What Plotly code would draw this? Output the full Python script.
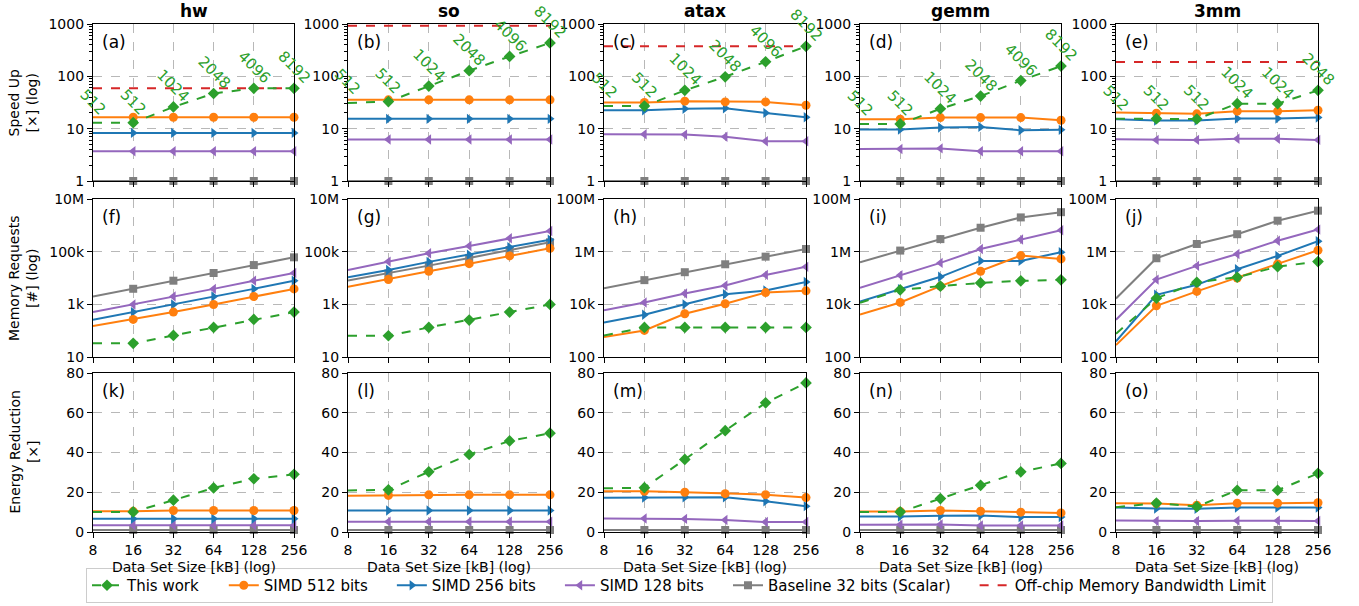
import numpy as np
import plotly.graph_objects as go

# ---------------- data ----------------
sizes = [8, 16, 32, 64, 128, 256]
size_labels = ["8", "16", "32", "64", "128", "256"]
benchmarks = ["hw", "so", "atax", "gemm", "3mm"]
panel_letters = ["a", "b", "c", "d", "e", "f", "g", "h", "i", "j", "k", "l", "m", "n", "o"]

# Speed up [x]
speedup_this_work = {
    "hw": [13, 13, 26, 47, 59, 59],
    "so": [31, 33, 65, 128, 240, 435],
    "atax": [27, 27, 54, 98, 190, 375],
    "gemm": [12.3, 12.3, 24, 42, 83, 157],
    "3mm": [15.5, 15.5, 15.3, 30, 30, 54],
}
speedup_simd512 = {
    "hw": [16.5, 16.5, 16.5, 16.5, 16.5, 16.5],
    "so": [35.5, 35.5, 35.5, 35.5, 35.5, 35.5],
    "atax": [31.6, 31.6, 33.5, 32.5, 32.5, 28],
    "gemm": [15.2, 15.2, 16.3, 16.3, 16.3, 14.5],
    "3mm": [20.3, 19.8, 19.2, 21.6, 21.6, 22.5],
}
speedup_simd256 = {
    "hw": [8.3, 8.3, 8.3, 8.3, 8.3, 8.3],
    "so": [15.4, 15.4, 15.4, 15.4, 15.4, 15.4],
    "atax": [22.5, 22.5, 23.9, 24.6, 20, 16.5],
    "gemm": [9.6, 9.6, 10.5, 10.8, 9.3, 9.5],
    "3mm": [15.2, 14.3, 14.3, 15.6, 15.6, 16.3],
}
speedup_simd128 = {
    "hw": [3.7, 3.7, 3.7, 3.7, 3.7, 3.7],
    "so": [6.2, 6.2, 6.2, 6.2, 6.2, 6.2],
    "atax": [7.8, 7.8, 7.7, 7.0, 5.75, 5.75],
    "gemm": [4.1, 4.1, 4.2, 3.7, 3.7, 3.7],
    "3mm": [6.3, 6.1, 6.1, 6.4, 6.4, 6.1],
}
speedup_baseline = {b: [1, 1, 1, 1, 1, 1] for b in benchmarks}
bandwidth_limit = {"hw": 59, "so": 930, "atax": 375, "gemm": None, "3mm": 187}
speedup_point_labels = {
    "hw": ["512", "512", "1024", "2048", "4096", "8192"],
    "so": ["512", "512", "1024", "2048", "4096", "8192"],
    "atax": ["512", "512", "1024", "2048", "4096", "8192"],
    "gemm": ["512", "512", "1024", "2048", "4096", "8192"],
    "3mm": ["512", "512", "512", "1024", "1024", "2048"],
}

# Memory requests [#]
mem_this_work = {
    "hw": [33, 33, 66, 133, 267, 507],
    "so": [64, 64, 133, 252, 507, 990],
    "atax": [660, 1330, 1330, 1330, 1330, 1330],
    "gemm": [11400, 35500, 49000, 65000, 78000, 85000],
    "3mm": [765, 17000, 69000, 107000, 270000, 420000],
}
mem_simd512 = {
    "hw": [149, 267, 507, 990, 1990, 3860],
    "so": [4600, 8800, 18000, 35000, 69000, 134000],
    "atax": [573, 1020, 4400, 10500, 28000, 32600],
    "gemm": [4100, 11800, 49000, 181000, 710000, 530000],
    "3mm": [285, 8800, 31000, 100000, 343000, 1130000],
}
mem_simd256 = {
    "hw": [260, 507, 990, 1990, 3860, 7900],
    "so": [10700, 20000, 41000, 77000, 147000, 286000],
    "atax": [2060, 4000, 10000, 24000, 33500, 71000],
    "gemm": [12800, 37700, 111000, 447000, 447000, 955000],
    "3mm": [392, 23000, 55000, 215000, 690000, 2500000],
}
mem_simd128 = {
    "hw": [507, 990, 1990, 3860, 7900, 15500],
    "so": [20300, 42000, 87000, 165000, 322000, 610000],
    "atax": [5900, 11700, 25700, 52000, 131000, 265000],
    "gemm": [42000, 128000, 374000, 1260000, 2900000, 6500000],
    "3mm": [2600, 87000, 289000, 820000, 2600000, 6900000],
}
mem_baseline = {
    "hw": [1990, 3900, 7900, 15500, 31000, 61000],
    "so": [8000, 15000, 29500, 58000, 116000, 227000],
    "atax": [41000, 83000, 166000, 332000, 647000, 1260000],
    "gemm": [398000, 1100000, 3000000, 8100000, 20000000, 31600000],
    "3mm": [16700, 563000, 1960000, 4600000, 15000000, 36000000],
}

# Energy reduction [x]
energy_this_work = {
    "hw": [10.1, 10.1, 16, 22.2, 26.8, 29],
    "so": [20.9, 21.2, 30.3, 39, 45.8, 49.7],
    "atax": [22, 22.3, 36.5, 51, 65, 75],
    "gemm": [10.1, 10.1, 16.8, 23.5, 30.3, 34.5],
    "3mm": [12.5, 14.5, 12.8, 21, 21, 29.5],
}
energy_simd512 = {
    "hw": [10.4, 10.4, 10.8, 10.8, 10.8, 10.8],
    "so": [18.2, 18.4, 18.7, 18.7, 18.7, 18.7],
    "atax": [20.5, 20.5, 20, 19.3, 18.8, 17.3],
    "gemm": [10.3, 10.3, 10.8, 10.5, 10, 9.6],
    "3mm": [14.5, 14.3, 13.5, 14.5, 14.5, 14.7],
}
energy_simd256 = {
    "hw": [6.7, 6.7, 6.7, 6.7, 6.7, 6.7],
    "so": [10.8, 10.8, 10.8, 10.8, 10.8, 10.8],
    "atax": [17.2, 17.3, 17.5, 17.5, 15.5, 13],
    "gemm": [7.8, 7.8, 8.2, 8.3, 7.5, 7.5],
    "3mm": [12.3, 11.8, 11.7, 12.3, 12.3, 12.3],
}
energy_simd128 = {
    "hw": [3.4, 3.4, 3.4, 3.4, 3.4, 3.4],
    "so": [5.2, 5.2, 5.2, 5.2, 5.2, 5.2],
    "atax": [6.8, 6.8, 6.6, 6.0, 5.0, 5.0],
    "gemm": [3.7, 3.7, 3.8, 3.3, 3.3, 3.3],
    "3mm": [5.8, 5.5, 5.5, 5.7, 5.7, 5.5],
}
energy_baseline = {b: [1, 1, 1, 1, 1, 1] for b in benchmarks}

row_titles = ["Speed Up<br>[×] (log)", "Memory Requests<br>[#] (log)", "Energy Reduction<br>[×]"]
x_title = "Data Set Size [kB] (log)"

# ---------------- styling ----------------
W, H = 1359, 606
FONT = "DejaVu Sans"
col_px = [(93, 294), (348, 550), (604, 806), (860, 1061), (1116, 1318)]
row_px = [(24, 181), (199, 357), (373, 532)]

C_GREEN = "#2ca02c"
C_ORANGE = "#ff7f0e"
C_BLUE = "#1f77b4"
C_PURPLE = "#9467bd"
C_GRAY = "#7f7f7f"
C_RED = "#d62728"

NB = "\u00a0" * 4
series_style = [
    # (name, key, color, symbol, size, dash, legendrank)
    ("Baseline 32 bits (Scalar)", "base", C_GRAY, "square", 8, "solid", 5),
    ("SIMD 128 bits", "s128", C_PURPLE, "triangle-left", 9, "solid", 4),
    ("SIMD 256 bits", "s256", C_BLUE, "triangle-right", 9, "solid", 3),
    ("SIMD 512 bits", "s512", C_ORANGE, "circle", 9, "solid", 2),
    ("This work", "this", C_GREEN, "diamond", 9, "dash", 1),
]
metric_data = [
    {"this": speedup_this_work, "s512": speedup_simd512, "s256": speedup_simd256,
     "s128": speedup_simd128, "base": speedup_baseline},
    {"this": mem_this_work, "s512": mem_simd512, "s256": mem_simd256,
     "s128": mem_simd128, "base": mem_baseline},
    {"this": energy_this_work, "s512": energy_simd512, "s256": energy_simd256,
     "s128": energy_simd128, "base": energy_baseline},
]

fig = go.Figure()
layout = dict(
    width=W, height=H,
    margin=dict(l=0, r=0, t=0, b=0, pad=0, autoexpand=False),
    plot_bgcolor="white", paper_bgcolor="white",
    font=dict(family=FONT, size=14, color="black"),
    showlegend=True,
    legend=dict(orientation="h", x=0.5, xanchor="center", y=(H - 603) / H, yanchor="bottom",
                bordercolor="#cccccc", borderwidth=1, font=dict(family=FONT, size=15),
                itemwidth=30, tracegroupgap=0, bgcolor="white"),
)
annotations = []

minor_log = [m * 10 ** d for d in range(0, 3) for m in range(2, 10)]

for r in range(3):
    for c in range(5):
        idx = r * 5 + c + 1
        sfx = "" if idx == 1 else str(idx)
        xref, yref = "x" + sfx, "y" + sfx
        b = benchmarks[c]
        axis_common = dict(showline=True, linecolor="black", linewidth=1.2, mirror=True,
                           ticks="outside", ticklen=5, tickwidth=1.2, tickcolor="black",
                           showgrid=True, gridcolor="#b8b8b8", griddash="dash", gridwidth=1,
                           zeroline=False, automargin=False,
                           tickfont=dict(family=FONT, size=14))
        layout["xaxis" + sfx] = dict(
            domain=[col_px[c][0] / W, col_px[c][1] / W], anchor=yref,
            type="log", range=[np.log10(8), np.log10(256)],
            tickmode="array", tickvals=sizes, ticktext=size_labels,
            showticklabels=(r == 2), **axis_common)
        yd = [1 - row_px[r][1] / H, 1 - row_px[r][0] / H]
        if r == 0:
            ya = dict(type="log", range=[0, 3], tickmode="array",
                      tickvals=[1, 10, 100, 1000], ticktext=["1", "10", "100", "1000"],
                      minor=dict(tickmode="array", tickvals=minor_log, ticks="outside",
                                 ticklen=3, tickcolor="black", showgrid=False))
        elif r == 1:
            if c < 2:
                ya = dict(type="log", range=[1, 7], tickmode="array",
                          tickvals=[10, 1e3, 1e5, 1e7], ticktext=["10", "1k", "100k", "10M"])
            else:
                ya = dict(type="log", range=[2, 8], tickmode="array",
                          tickvals=[100, 1e4, 1e6, 1e8], ticktext=["100", "10k", "1M", "100M"])
        else:
            ya = dict(type="linear", range=[0, 80], tickmode="array",
                      tickvals=[0, 20, 40, 60, 80], ticktext=["0", "20", "40", "60", "80"])
        layout["yaxis" + sfx] = dict(domain=yd, anchor=xref, **ya, **axis_common)

        # bandwidth limit (row 0 only)
        if r == 0:
            lim = bandwidth_limit[b]
            if lim is not None:
                fig.add_trace(go.Scatter(
                    x=[sizes[0], sizes[-1]], y=[lim, lim], mode="lines",
                    line=dict(color=C_RED, width=2, dash="dash"),
                    name="Off-chip Memory Bandwidth Limit", legendrank=6,
                    showlegend=(c == 0), xaxis=xref, yaxis=yref, cliponaxis=False))
        for name, key, color, sym, msize, dash, rank in series_style:
            vals = metric_data[r][key][b]
            fig.add_trace(go.Scatter(
                x=sizes, y=vals, mode="lines+markers",
                line=dict(color=color, width=2, dash=dash),
                marker=dict(color=color, symbol=sym, size=msize),
                name=name + NB, legendrank=rank,
                showlegend=(r == 0 and c == 0), xaxis=xref, yaxis=yref,
                cliponaxis=False))

        # panel letter
        annotations.append(dict(
            x=(col_px[c][0] + 7) / W, y=1 - (row_px[r][0] + 6) / H, xref="paper", yref="paper",
            text="(" + panel_letters[idx - 1] + ")", showarrow=False,
            xanchor="left", yanchor="top", font=dict(family=FONT, size=17, color="black")))

        # point labels on speed-up row
        if r == 0:
            for i, lbl in enumerate(speedup_point_labels[b]):
                annotations.append(dict(
                    x=np.log10(sizes[i]), y=np.log10(speedup_this_work[b][i]),
                    xref=xref, yref=yref, text=lbl, showarrow=False, textangle=45,
                    yshift=21, xanchor="center", yanchor="middle",
                    font=dict(family=FONT, size=15, color=C_GREEN)))

# column titles and x titles
for c, b in enumerate(benchmarks):
    annotations.append(dict(
        x=(col_px[c][0] + col_px[c][1]) / 2 / W, y=1 - 11 / H, xref="paper", yref="paper",
        text="<b>" + b + "</b>", showarrow=False, xanchor="center", yanchor="middle",
        font=dict(family=FONT, size=17, color="black")))
    annotations.append(dict(
        x=(col_px[c][0] + col_px[c][1]) / 2 / W, y=1 - 567 / H, xref="paper", yref="paper",
        text=x_title, showarrow=False, xanchor="center", yanchor="middle",
        font=dict(family=FONT, size=14, color="black")))

# row titles
for r in range(3):
    annotations.append(dict(
        x=23 / W, y=1 - (row_px[r][0] + row_px[r][1]) / 2 / H, xref="paper", yref="paper",
        text=row_titles[r], showarrow=False, textangle=-90, xanchor="center", yanchor="middle",
        align="center", font=dict(family=FONT, size=14, color="black")))

layout["annotations"] = annotations
fig.update_layout(**layout)
fig.write_html("out.html", config={"displayModeBar": False},
               post_script="document.body.style.margin='0px';document.body.style.overflow='hidden';")
